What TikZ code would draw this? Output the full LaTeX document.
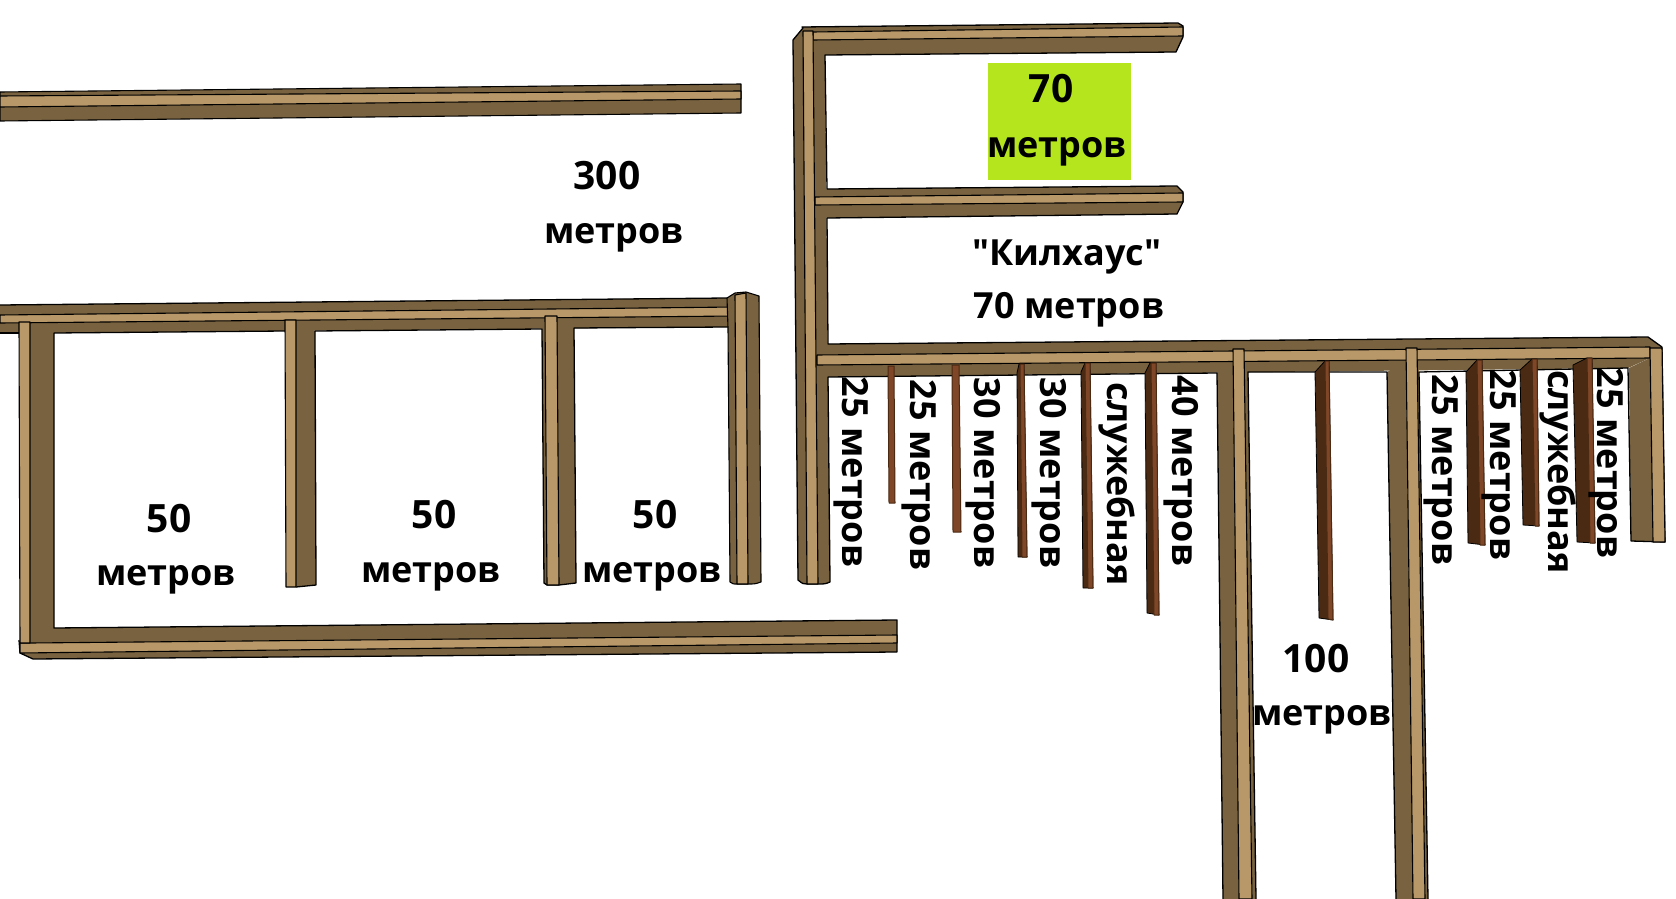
\documentclass[tikz,border=0pt]{standalone}
\usepackage{fontspec}
\newfontfamily\labelfont{Open Sans}
\begin{document}
\begin{tikzpicture}[x=0.5pt, y=-0.5pt, line join=round,
	dark/.style = {fill=wooddark, draw=black, line width=0.55pt},
	light/.style = {fill=woodlight, draw=black, line width=0.55pt},
	outline/.style = {draw=black, line width=0.65pt},
	wall/.style = {fill=walldark, draw=black, line width=0.4pt},
	strip/.style = {fill=wallred, draw=walldark, line width=0.5pt},
	label/.style = {font=\labelfont\fontsize{18}{18}\selectfont\bfseries, anchor=base, inner sep=0pt, text=black},
	numlabel/.style = {label, font=\labelfont\fontsize{19.5}{19.5}\selectfont\bfseries},
	vlabel/.style = {label, rotate=-90}]
	\definecolor{wooddark}{HTML}{79623F}
	\definecolor{woodlight}{HTML}{B89868}
	\definecolor{walldark}{HTML}{4A2A12}
	\definecolor{wallred}{HTML}{7F4628}
	\definecolor{lime}{HTML}{B5E61D}
	\useasboundingbox (0,0) rectangle (1676,899);

	% beam above the 300 m block
	\draw[dark] (0,92) -- (741,84) -- (741,113) -- (0,121) -- cycle;
	\draw[light] (0,96) -- (741,91) -- (741,99) -- (0,107) -- cycle;

	% left block, dark faces
	\fill[wooddark] (0,305) -- (727,298) -- (735,316) -- (728,327) -- (54,333) -- (0,333) -- cycle;
	\fill[wooddark] (30,322) -- (54,333) -- (54,628) -- (897,620) -- (897,652) -- (33,659) -- (20,653) -- (20,643) -- cycle;
	\fill[wooddark] (296,320) -- (315,331) -- (316,585) -- (296,587) -- cycle;
	\fill[wooddark] (542,329) -- (545,316) -- (557,316) -- (574,328) -- (576,583) -- (559,585) -- (547,585) -- (544,583) -- cycle;
	\draw[outline] (0,305) -- (727,298);
	\draw[outline] (0,333) -- (19,333);
	\draw[outline] (19,640) -- (20,653) -- (33,659) -- (897,652) -- (897,620) -- (54,628) -- (54,333) -- (285,331);
	\draw[outline] (296,587) -- (316,585) -- (315,331) -- (542,329) -- (544,583) -- (547,585) -- (559,585) -- (576,583) -- (574,328) -- (728,327);

	% left block, light faces
	\draw[light] (0,315) -- (735,307) -- (735,316) -- (0,323) -- cycle;
	\draw[light] (30,643) -- (897,635) -- (897,643) -- (20,653) -- (20,643) -- cycle;
	\draw[light] (19,322) -- (30,322) -- (30,643) -- (20,643) -- cycle;
	\draw[light] (285,320) -- (296,320) -- (296,587) -- (286,587) -- cycle;
	\draw[light] (545,316) -- (557,316) -- (559,585) -- (547,585) -- cycle;

	% left block, end wall
	\draw[dark] (728,328) -- (727,298) -- (735,293) -- (746,292) -- (759,296) -- (761,582) .. controls (755,584) .. (748,584) -- (737,584) .. controls (733,584) .. (730,582) -- cycle;
	\draw[light] (735,295) -- (746,293) -- (748,584) -- (737,584) -- cycle;

	% right block, dark faces
	\fill[wooddark] (803,28) -- (793,40) -- (798,580) .. controls (803,584) .. (807,584) -- (818,584) .. controls (825,584) .. (830,582) -- (825,55) -- (813,32) -- cycle;
	\fill[wooddark] (802,27) -- (1178,23) -- (1183,26) -- (1183,37) -- (1176,52) -- (825,55) -- (813,40) -- cycle;
	\fill[wooddark] (815,195) -- (827,189) -- (1177,186) -- (1183,192) -- (1183,202) -- (1177,214) -- (827,218) -- (815,205) -- cycle;
	\fill[wooddark] (817,355) -- (828,344) -- (1648,337) -- (1662,347) -- (1650,358) -- (1628,368) -- (828,377) -- (817,365) -- cycle;
	\fill[wooddark] (1629,368) -- (1650,358) -- (1653,542) -- (1631,541) -- cycle;
	\fill[wooddark] (1662,347) -- (1665,542) -- (1653,542) -- (1650,348) -- cycle;
	\fill[wooddark] (1217,373) -- (1220,362) -- (1233,362) -- (1239,899) -- (1223,899) -- cycle;
	\fill[wooddark] (1244,362) -- (1248,372) -- (1256,899) -- (1252,899) -- cycle;
	\fill[wooddark] (1387,372) -- (1406,361) -- (1413,899) -- (1396,899) -- cycle;
	\fill[wooddark] (1417,360) -- (1419,372) -- (1428,899) -- (1425,899) -- cycle;
	\draw[outline] (1183,37) -- (1183,26) -- (1178,23) -- (802,27) -- (803,28) -- (793,40) -- (798,580) .. controls (803,584) .. (807,584) -- (818,584) .. controls (825,584) .. (830,582) -- (828,377) -- (1217,373) -- (1223,899);
	\draw[outline] (1183,37) -- (1176,52) -- (825,55) -- (827,189) -- (1177,186) -- (1183,192) -- (1183,202) -- (1177,214) -- (827,218) -- (828,344) -- (1648,337) -- (1662,347);
	\draw[outline] (1256,899) -- (1248,372) -- (1387,372) -- (1396,899);
	\draw[outline] (1428,899) -- (1419,372) -- (1628,368) -- (1631,541) -- (1665,542) -- (1662,347);

	% right block, light faces
	\draw[light] (813,32) -- (1183,27) -- (1183,36) -- (813,40) -- cycle;
	\draw[light] (815,197) -- (1183,193) -- (1183,202) -- (815,205) -- cycle;
	\draw[light] (817,355) -- (1650,347) -- (1650,358) -- (817,365) -- cycle;
	\draw[light] (803,31) -- (813,31) -- (818,584) -- (807,584) -- cycle;
	\draw[light] (1650,348) -- (1662,348) -- (1665,542) -- (1653,542) -- cycle;
	\draw[light] (1233,349) -- (1244,349) -- (1252,899) -- (1239,899) -- cycle;
	\draw[light] (1406,348) -- (1417,348) -- (1425,899) -- (1413,899) -- cycle;

	% thin walls
	\draw[strip] (888,366) -- (894,366) -- (895,503) -- (889,503) -- cycle;
	\draw[strip] (952,365) -- (959,365) -- (961,532) -- (953,532) -- cycle;
	\draw[wall] (1017,373) -- (1019,364) -- (1024,364) -- (1027,557) -- (1018,557) -- cycle;
	\draw[strip] (1020,364) -- (1024,364) -- (1027,557) -- (1022,557) -- cycle;
	\draw[wall] (1081,372) -- (1085,363) -- (1090,363) -- (1093,588) -- (1083,588) -- cycle;
	\draw[strip] (1085,363) -- (1090,363) -- (1093,588) -- (1088,588) -- cycle;
	\draw[wall] (1145,373) -- (1150,363) -- (1156,363) -- (1159,615) -- (1147,613) -- cycle;
	\draw[strip] (1151,363) -- (1156,363) -- (1159,615) -- (1154,615) -- cycle;
	\draw[wall] (1315,372) -- (1325,361) -- (1329,361) -- (1333,620) -- (1319,618) -- cycle;
	\draw[strip] (1325,361) -- (1329,361) -- (1333,620) -- (1328,619) -- cycle;
	\draw[wall] (1466,372) -- (1477,360) -- (1482,360) -- (1485,545) -- (1468,543) -- cycle;
	\draw[strip] (1477,360) -- (1482,360) -- (1485,545) -- (1480,545) -- cycle;
	\draw[wall] (1520,370) -- (1532,359) -- (1537,359) -- (1539,526) -- (1523,525) -- cycle;
	\draw[strip] (1532,359) -- (1537,359) -- (1539,526) -- (1535,526) -- cycle;
	\draw[wall] (1573,365) -- (1587,358) -- (1592,358) -- (1595,543) -- (1577,542) -- cycle;
	\draw[strip] (1587,358) -- (1592,358) -- (1595,543) -- (1590,543) -- cycle;

	% green patch
	\fill[lime] (988,63) rectangle (1131,180);

	% labels, top
	\node[numlabel] (n70a) at (1051,103) {70};
	\node[label] (m70a) at (1057,157) {метров};
	\node[label] (kill) at (1067,265) {"Килхаус"};
	\node[label] (m70b) at (1069,318) {70 метров};
	\node[numlabel] (n300) at (607,190) {300};
	\node[label] (m300) at (614,243) {метров};

	% labels, left block
	\node[numlabel] (n50a) at (169,532) {50};
	\node[label] (m50a) at (166,585) {метров};
	\node[numlabel] (n50b) at (434,528) {50};
	\node[label] (m50b) at (431,582) {метров};
	\node[numlabel] (n50c) at (655,528) {50};
	\node[label] (m50c) at (652,582) {метров};

	% labels, corridor
	\node[numlabel] (n100) at (1316,672) {100};
	\node[label] (m100) at (1322,725) {метров};

	% labels, rooms
	\node[vlabel] (r1) at (842,472) {25 метров};
	\node[vlabel] (r2) at (910,475) {25 метров};
	\node[vlabel] (r3) at (974,473) {30 метров};
	\node[vlabel] (r4) at (1040,473) {30 метров};
	\node[vlabel] (r5) at (1107,484) {служебная};
	\node[vlabel] (r6) at (1172,471) {40 метров};
	\node[vlabel] (r7) at (1432,470) {25 метров};
	\node[vlabel] (r8) at (1490,465) {25 метров};
	\node[vlabel] (r9) at (1548,472) {служебная};
	\node[vlabel] (r10) at (1597,463) {25 метров};
\end{tikzpicture}
\end{document}
